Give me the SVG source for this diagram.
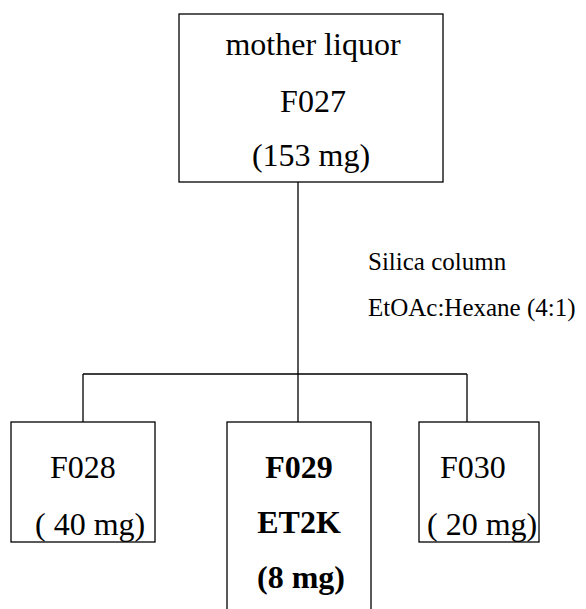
<svg xmlns="http://www.w3.org/2000/svg" width="586" height="609" viewBox="0 0 586 609">
<style>
.box{fill:#fff;stroke:#000;stroke-width:1.3}
.ln{fill:none;stroke:#000;stroke-width:1.3}
.t{font-family:"Liberation Serif","Times New Roman",serif;font-size:32px;fill:#000}
.b{font-weight:bold}
.s{font-family:"Liberation Serif","Times New Roman",serif;font-size:25px;fill:#000}
</style>
<rect width="586" height="609" fill="#fff"/>
<g id="connectors">
<path class="ln" d="M298,182 V374 M83,374 H467 M83,374 V422 M298,374 V422 M467,374 V422"/>
</g>
<g id="F027">
<rect class="box" x="179" y="14" width="264" height="168"/>
<text class="t" x="313" y="55" text-anchor="middle">mother liquor</text>
<text class="t" x="313" y="112" text-anchor="middle">F027</text>
<text class="t" x="311" y="166" text-anchor="middle">(153 mg)</text>
</g>
<g id="label">
<text class="s" x="368" y="270">Silica column</text>
<text class="s" x="368" y="316">EtOAc:Hexane (4:1)</text>
</g>
<g id="F028">
<rect class="box" x="11" y="422" width="144" height="120"/>
<text class="t" x="50" y="478">F028</text>
<text class="t" x="35" y="535">( 40 mg)</text>
</g>
<g id="F029">
<rect class="box" x="227" y="422" width="144" height="200"/>
<text class="t b" x="299" y="478" text-anchor="middle">F029</text>
<text class="t b" x="299" y="533" text-anchor="middle">ET2K</text>
<text class="t b" x="301" y="588" text-anchor="middle">(8 mg)</text>
</g>
<g id="F030">
<rect class="box" x="419" y="422" width="120" height="120"/>
<text class="t" x="440" y="478">F030</text>
<text class="t" x="427" y="535">( 20 mg)</text>
</g>
</svg>
